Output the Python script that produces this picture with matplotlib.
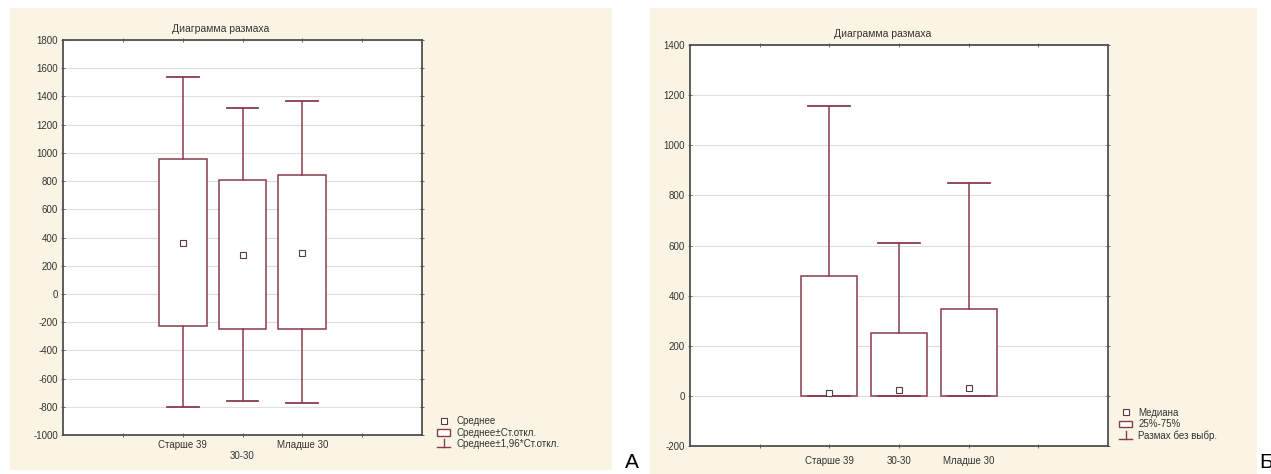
import matplotlib
matplotlib.use("Agg")
import matplotlib.pyplot as plt
from matplotlib.patches import Rectangle, Patch
from matplotlib.lines import Line2D
from matplotlib.legend_handler import HandlerBase

plt.rcParams['font.family'] = ['Liberation Sans', 'DejaVu Sans']

categories = ["Старше 39", "30-30", "Младше 30"]

# Panel A: mean, mean±SD, mean±1.96*SD
mean_a = [360, 275, 290]
sd_low_a = [-230, -250, -250]
sd_high_a = [960, 810, 840]
ci_low_a = [-800, -760, -775]
ci_high_a = [1540, 1320, 1365]

# Panel Б: median, 25%-75%, range without outliers
median_b = [10, 25, 30]
q1_b = [0, 0, 0]
q3_b = [480, 250, 345]
min_b = [0, 0, 0]
max_b = [1155, 610, 850]

title = "Диаграмма размаха"
legend_a = ["Среднее", "Среднее±Ст.откл.", "Среднее±1,96*Ст.откл."]
legend_b = ["Медиана", "25%-75%", "Размах без выбр."]

BOX = '#8a3c4c'
BEIGE = '#f9f4e4'
SPINE = '#505050'
TXT = '#333333'
W, H = 1271, 474

fig = plt.figure(figsize=(12.71, 4.74), dpi=100)
fig.patch.set_facecolor('white')


def fr(x0, y0, x1, y1):
    return [x0 / W, 1 - y1 / H, (x1 - x0) / W, (y1 - y0) / H]


for (x0, y0, x1, y1) in [(10, 8, 612, 470), (650, 8, 1257, 474)]:
    r = fr(x0, y0, x1, y1)
    fig.patches.append(Rectangle((r[0], r[1]), r[2], r[3], transform=fig.transFigure,
                                 facecolor=BEIGE, edgecolor='none', zorder=-10))


class WhiskerHandler(HandlerBase):
    def create_artists(self, legend, orig_handle, xd, yd, width, height, fontsize, trans):
        cx = xd + width / 2
        v = Line2D([cx, cx], [yd + height * 0.1, yd + height * 1.2], color=BOX, lw=1)
        h = Line2D([cx - width * 0.45, cx + width * 0.45], [yd + height * 0.1, yd + height * 0.1],
                   color=BOX, lw=1)
        for a in (v, h):
            a.set_transform(trans)
        return [v, h]


def setup_axes(ax, ylim, yticks, xlabels):
    ax.set_facecolor('white')
    ax.set_xlim(-1, 5)
    ax.set_ylim(*ylim)
    ax.set_yticks(yticks)
    ax.set_yticklabels([str(t) for t in yticks])
    ax.set_xticks([0, 1, 2, 3, 4])
    ax.set_xticklabels(xlabels)
    ax.grid(axis='y', color='#dedede', lw=0.8)
    ax.set_axisbelow(True)
    for s in ax.spines.values():
        s.set_color(SPINE)
        s.set_linewidth(1.3)
    ax.tick_params(axis='both', which='both', direction='inout', length=3, width=0.6,
                   color=SPINE, labelsize=7, labelcolor=TXT, top=True, right=True, pad=2)


def draw_box(ax, stats, widths, capw):
    ax.bxp(stats, positions=[1, 2, 3], widths=widths, capwidths=capw, showmeans=True,
           patch_artist=True, showfliers=False,
           boxprops=dict(facecolor='white', edgecolor=BOX, lw=1.1),
           whiskerprops=dict(color=BOX, lw=1.1),
           capprops=dict(color=BOX, lw=1.3),
           medianprops=dict(lw=0),
           meanprops=dict(marker='s', markersize=4, markerfacecolor='white',
                          markeredgecolor='#5a3a3a', markeredgewidth=0.8))


def add_legend(labels, anchor):
    m = Line2D([], [], marker='s', ls='none', markersize=4, markerfacecolor='white',
               markeredgecolor='#5a3a3a', markeredgewidth=0.8)
    p = Patch(facecolor='white', edgecolor=BOX, lw=1)
    wh = Line2D([], [])
    fig.legend([m, p, wh], labels, loc='lower left', bbox_to_anchor=anchor,
               frameon=False, fontsize=7, labelcolor=TXT,
               handlelength=1.4, handletextpad=0.6, labelspacing=0.15,
               handler_map={wh: WhiskerHandler()})


# Panel A
axA = fig.add_axes(fr(63, 40, 422, 435))
statsA = [dict(med=m, mean=m, q1=l, q3=h, whislo=cl, whishi=ch)
          for m, l, h, cl, ch in zip(mean_a, sd_low_a, sd_high_a, ci_low_a, ci_high_a)]
draw_box(axA, statsA, 0.8, 0.53)
setup_axes(axA, (-1000, 1800), list(range(-1000, 1801, 200)),
           ["", categories[0], "\n" + categories[1], categories[2], ""])
axA.set_title(title, fontsize=7.5, pad=6, x=0.44, color=TXT)
add_legend(legend_a, (428 / W, 1 - 458 / H))

# Panel Б
axB = fig.add_axes(fr(690, 45, 1108, 446))
statsB = [dict(med=m, mean=m, q1=a, q3=b, whislo=lo, whishi=hi)
          for m, a, b, lo, hi in zip(median_b, q1_b, q3_b, min_b, max_b)]
draw_box(axB, statsB, 0.8, 0.6)
setup_axes(axB, (-200, 1400), list(range(-200, 1401, 200)),
           ["", categories[0], categories[1], categories[2], ""])
axB.tick_params(axis='x', pad=6)
axB.set_title(title, fontsize=7.5, pad=6, x=0.46, color=TXT)
add_legend(legend_b, (1110 / W, 1 - 450 / H))

fig.text(632 / W, 1 - 462 / H, "А", fontsize=15, ha='center', va='center')
fig.text(1266 / W, 1 - 462 / H, "Б", fontsize=15, ha='center', va='center')

fig.savefig("out.png", dpi=100, facecolor='white')
